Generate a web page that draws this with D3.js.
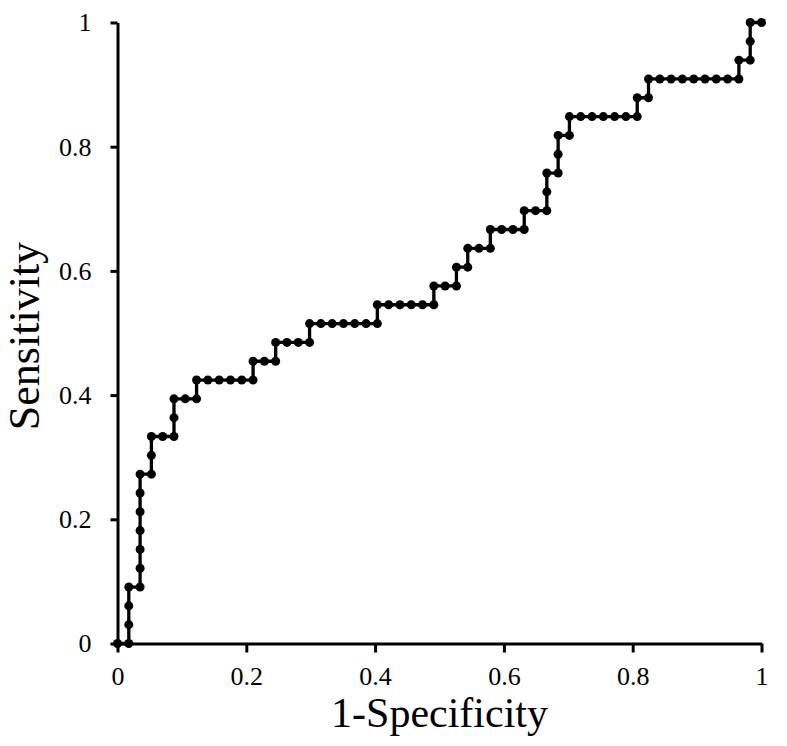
<!DOCTYPE html>
<html>

<head>
    <script src="https://d3js.org/d3.v7.min.js"></script>
    <meta charset="utf-8">
    <style>
        body { margin: 0; background: #fff; }
        text { font-family: "Liberation Serif", "Times New Roman", serif; fill: #000; }
    </style>
</head>

<body>
    <div id="my_dataviz"></div>
    <script>
        var nNeg = 57;
        var nPos = 33;
        var falsePos = [0, 1, 1, 1, 1, 2, 2, 2, 2, 2, 2, 2, 3, 3, 3, 4, 5, 5, 5, 6, 7, 7,
            8, 9, 10, 11, 12, 12, 13, 14, 14, 15, 16, 17, 17, 18, 19, 20, 21, 22, 23, 23,
            24, 25, 26, 27, 28, 28, 29, 30, 30, 31, 31, 32, 33, 33, 34, 35, 36, 36, 37, 38,
            38, 38, 39, 39, 39, 40, 40, 41, 42, 43, 44, 45, 46, 46, 47, 47, 48, 49, 50, 51,
            52, 53, 54, 55, 55, 56, 56, 56, 57];
        var truePos = [0, 0, 1, 2, 3, 3, 4, 5, 6, 7, 8, 9, 9, 10, 11, 11, 11, 12, 13, 13, 13, 14,
            14, 14, 14, 14, 14, 15, 15, 15, 16, 16, 16, 16, 17, 17, 17, 17, 17, 17, 17, 18,
            18, 18, 18, 18, 18, 19, 19, 19, 20, 20, 21, 21, 21, 22, 22, 22, 22, 23, 23, 23,
            24, 25, 25, 26, 27, 27, 28, 28, 28, 28, 28, 28, 28, 29, 29, 30, 30, 30, 30, 30,
            30, 30, 30, 30, 31, 31, 32, 33, 33];
        var xTicks = [0, 0.2, 0.4, 0.6, 0.8, 1];
        var yTicks = [0, 0.2, 0.4, 0.6, 0.8, 1];
        var xTitle = "1-Specificity";
        var yTitle = "Sensitivity";

        var width = 787;
        var height = 746;

        var points = falsePos.map(function (d, i) {
            return { x: d / nNeg, y: truePos[i] / nPos };
        });

        var svg = d3.select("#my_dataviz")
            .append("svg")
            .attr("width", width)
            .attr("height", height);

        var x = d3.scaleLinear().domain([0, 1]).range([117.5, 761.5]);
        var y = d3.scaleLinear().domain([0, 1]).range([643.5, 22.5]);

        // axes
        var xAxis = svg.append("g")
            .attr("transform", "translate(0," + y(0) + ")")
            .call(d3.axisBottom(x).tickValues(xTicks).tickFormat(d => String(d))
                .tickSize(9).tickSizeOuter(0).tickPadding(14));

        var yAxis = svg.append("g")
            .attr("transform", "translate(" + x(0) + ",0)")
            .call(d3.axisLeft(y).tickValues(yTicks).tickFormat(d => String(d))
                .tickSize(7).tickSizeOuter(0).tickPadding(19));

        [xAxis, yAxis].forEach(function (g) {
            g.select(".domain").attr("stroke-width", 3).attr("stroke", "#000");
            g.selectAll(".tick line").attr("stroke-width", 3).attr("stroke", "#000");
            g.selectAll(".tick text")
                .style("font-family", "'Liberation Serif', 'Times New Roman', serif")
                .style("font-size", "26px")
                .attr("fill", "#000");
        });

        // ROC step line
        var line = d3.line()
            .x(d => x(d.x))
            .y(d => y(d.y));

        svg.append("path")
            .datum(points)
            .attr("fill", "none")
            .attr("stroke", "#000")
            .attr("stroke-width", 3.3)
            .attr("d", line);

        svg.append("g")
            .selectAll("circle")
            .data(points)
            .enter()
            .append("circle")
            .attr("cx", d => x(d.x))
            .attr("cy", d => y(d.y))
            .attr("r", 4.5)
            .attr("fill", "#000");

        // axis titles
        svg.append("text")
            .attr("x", (x(0) + x(1)) / 2)
            .attr("y", 727)
            .attr("text-anchor", "middle")
            .style("font-size", "42px")
            .text(xTitle);

        svg.append("text")
            .attr("transform", "translate(39," + 336 + ") rotate(-90)")
            .attr("text-anchor", "middle")
            .style("font-size", "44px")
            .text(yTitle);
    </script>
</body>

</html>
